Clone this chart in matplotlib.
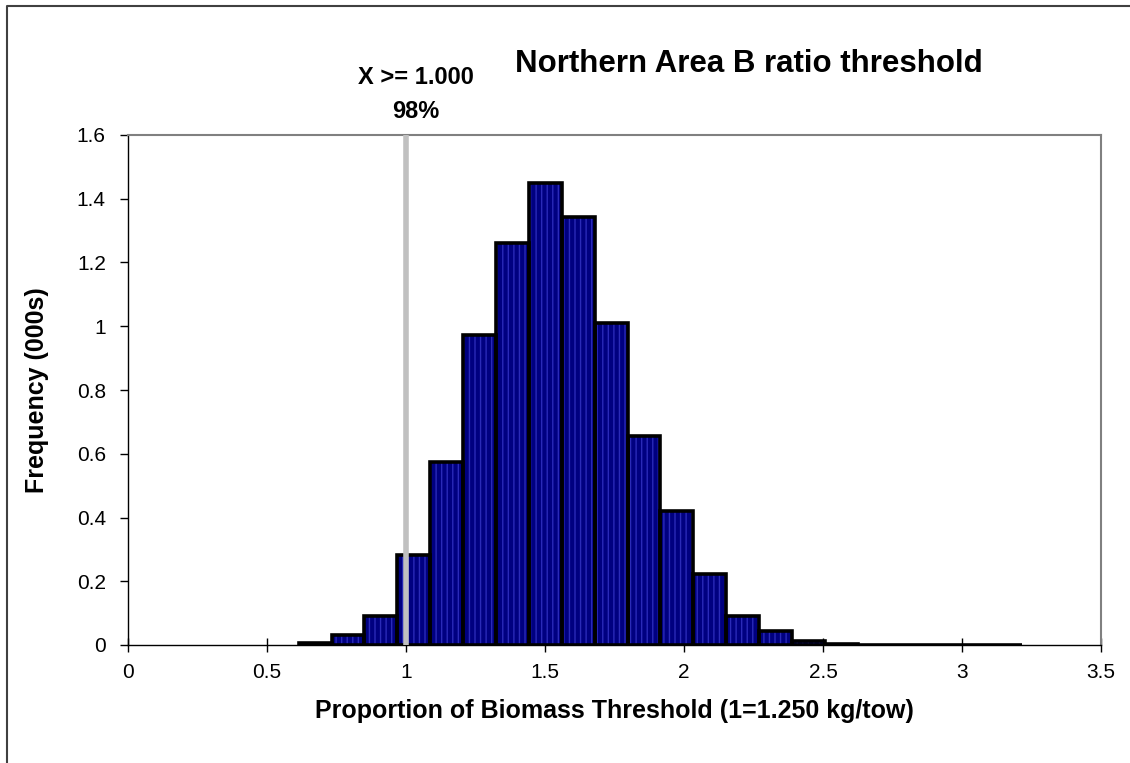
import numpy as np
import matplotlib
matplotlib.use('Agg')
import matplotlib.pyplot as plt
from matplotlib.lines import Line2D
from matplotlib.ticker import FuncFormatter

plt.rcParams['font.family'] = ['Liberation Sans', 'DejaVu Sans']

# histogram bins (ratio to biomass threshold) and frequencies in thousands
bin_start = 0.614
bin_width = 0.1183
freq = [0.005, 0.03, 0.092, 0.282, 0.574, 0.973, 1.262, 1.449, 1.343, 1.01,
        0.656, 0.42, 0.224, 0.092, 0.045, 0.014, 0.002, 0.001, 0.0006, 0.0005,
        0.0003, 0.0002]
threshold = 1.0
label_top = 'X >= 1.000'
label_pct = '98%'

centers = bin_start + bin_width * (np.arange(len(freq)) + 0.5)

fig = plt.figure(figsize=(11.3, 7.63), dpi=100)
ax = fig.add_axes([128 / 1130, 1 - 645 / 763, (1101 - 128) / 1130, (645 - 135) / 763])

# pattern fill, then black outline
ax.bar(centers, freq, width=bin_width, color='#000080', edgecolor='#2a2ab8',
       hatch='|||', linewidth=0, zorder=2)
ax.bar(centers, freq, width=bin_width, fill=False, edgecolor='black',
       linewidth=2.6, zorder=3)

ax.plot([threshold, threshold], [0, 1.6], color='#c0c0c0', lw=4, zorder=4,
        solid_capstyle='butt', clip_on=False)

ax.set_xlim(0, 3.5)
ax.set_ylim(0, 1.6)
ax.set_xticks(np.arange(0, 3.51, 0.5))
ax.set_yticks(np.arange(0, 1.61, 0.2))
fmt = FuncFormatter(lambda v, p: '%g' % round(v, 2))
ax.xaxis.set_major_formatter(fmt)
ax.yaxis.set_major_formatter(fmt)
ax.tick_params(axis='x', direction='inout', length=10, width=1, labelsize=15, pad=8)
ax.tick_params(axis='y', direction='out', length=6, width=1, labelsize=15, pad=10)

for s in ['top', 'right']:
    ax.spines[s].set_color('#808080')
    ax.spines[s].set_linewidth(1.5)
for s in ['left', 'bottom']:
    ax.spines[s].set_color('black')
    ax.spines[s].set_linewidth(1)

ax.set_xlabel('Proportion of Biomass Threshold (1=1.250 kg/tow)', fontsize=18,
              fontweight='bold', labelpad=12)
ax.set_ylabel('Frequency (000s)', fontsize=18, fontweight='bold', labelpad=20)

fig.text(749 / 1130, 1 - 64 / 763, 'Northern Area B ratio threshold', fontsize=22.5,
         fontweight='bold', ha='center', va='center')
fig.text(416 / 1130, 1 - 77 / 763, label_top, fontsize=17, fontweight='bold',
         ha='center', va='center')
fig.text(416 / 1130, 1 - 111 / 763, label_pct, fontsize=17, fontweight='bold',
         ha='center', va='center')

# outer chart border
fig.add_artist(Line2D([7 / 1130, 7 / 1130, 1.0], [0.0, 1 - 6 / 763, 1 - 6 / 763],
                      color='#404040', lw=1.5, transform=fig.transFigure))

fig.savefig('out.png', dpi=100)
